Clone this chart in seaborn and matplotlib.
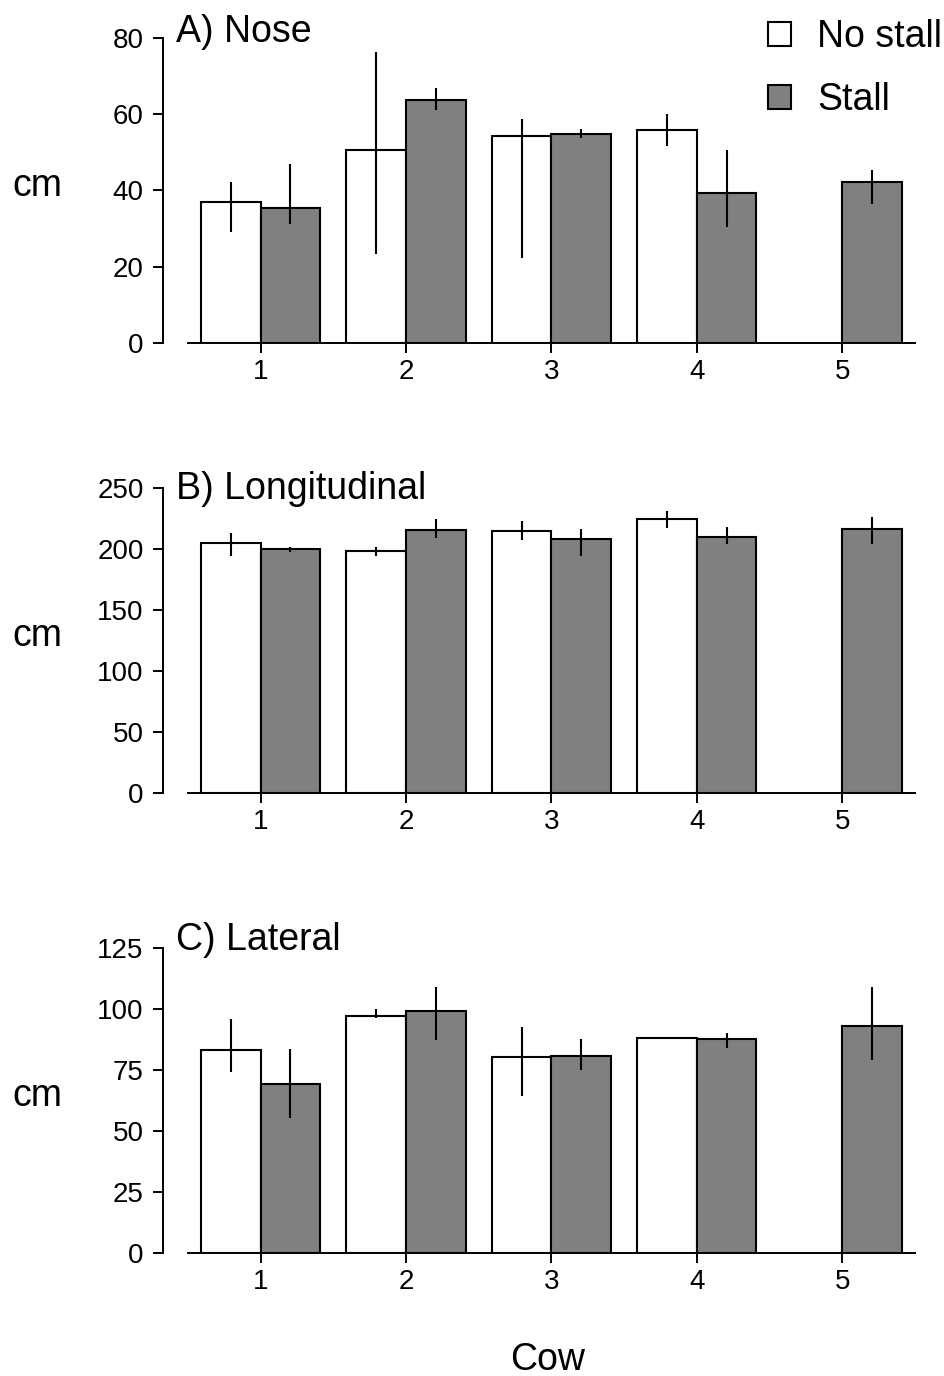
import matplotlib
matplotlib.use("Agg")
import matplotlib.pyplot as plt
import numpy as np
import pandas as pd
import seaborn as sns

# === Data ===
cows = ["1", "2", "3", "4", "5"]
conditions = ["No stall", "Stall"]

nose_nostall = [36.9, 50.6, 54.2, 55.9, np.nan]
nose_nostall_lo = [29.1, 23.3, 22.3, 51.5, np.nan]
nose_nostall_hi = [42.3, 76.3, 58.6, 60.1, np.nan]
nose_stall = [35.4, 63.6, 54.8, 39.2, 42.2]
nose_stall_lo = [31.3, 61.0, 53.6, 30.5, 36.4]
nose_stall_hi = [47.0, 66.8, 56.0, 50.7, 45.4]

long_nostall = [204.5, 198.2, 214.3, 224.1, np.nan]
long_nostall_lo = [194.1, 194.1, 207.2, 217.0, np.nan]
long_nostall_hi = [212.9, 201.7, 222.7, 230.9, np.nan]
long_stall = [199.5, 215.6, 207.7, 209.4, 215.9]
long_stall_lo = [197.3, 208.5, 194.1, 203.9, 203.9]
long_stall_hi = [201.4, 224.3, 216.2, 217.8, 226.0]

lat_nostall = [83.4, 97.4, 80.3, 88.4, np.nan]
lat_nostall_lo = [74.3, 96.4, 64.6, 88.2, np.nan]
lat_nostall_hi = [96.0, 100.0, 92.6, 88.8, np.nan]
lat_stall = [69.5, 99.2, 81.0, 87.7, 93.3]
lat_stall_lo = [55.4, 87.5, 75.1, 84.3, 79.2]
lat_stall_hi = [83.7, 109.0, 87.8, 90.3, 109.1]

panels = [
    ("A) Nose", nose_nostall, nose_nostall_lo, nose_nostall_hi,
     nose_stall, nose_stall_lo, nose_stall_hi, 80, [0, 20, 40, 60, 80]),
    ("B) Longitudinal", long_nostall, long_nostall_lo, long_nostall_hi,
     long_stall, long_stall_lo, long_stall_hi, 250, [0, 50, 100, 150, 200, 250]),
    ("C) Lateral", lat_nostall, lat_nostall_lo, lat_nostall_hi,
     lat_stall, lat_stall_lo, lat_stall_hi, 125, [0, 25, 50, 75, 100, 125]),
]

# === Style ===
sns.set_style("ticks")
plt.rcParams["font.family"] = ["Liberation Sans", "DejaVu Sans"]
for key in ["text.color", "axes.labelcolor", "xtick.color", "ytick.color", "axes.edgecolor"]:
    plt.rcParams[key] = "black"

fig = plt.figure(figsize=(9.45, 13.76), dpi=100)
axes_rect = [
    [0.1989, 0.7507, 0.7693, 0.2219],
    [0.1989, 0.4235, 0.7693, 0.2221],
    [0.1989, 0.0892, 0.7693, 0.2217],
]
title_y = [0.987, 0.964, 0.994]

for i, (title, ns, ns_lo, ns_hi, st, st_lo, st_hi, ytop, yticks) in enumerate(panels):
    ax = fig.add_axes(axes_rect[i])
    df = pd.DataFrame({
        "Cow": cows * 2,
        "Condition": [conditions[0]] * 5 + [conditions[1]] * 5,
        "cm": ns + st,
    })
    sns.barplot(
        data=df, x="Cow", y="cm", hue="Condition", hue_order=conditions,
        order=cows, palette=["white", "#808080"], edgecolor="black",
        linewidth=1.5, errorbar=None, width=0.82, saturation=1,
        legend=(i == 0), ax=ax,
    )

    # error bars from the bar positions drawn by seaborn
    lows = [ns_lo, st_lo]
    highs = [ns_hi, st_hi]
    for c, container in enumerate(ax.containers):
        for bar in container:
            xc = bar.get_x() + bar.get_width() / 2
            idx = int(round(xc))
            lo, hi = lows[c][idx], highs[c][idx]
            if np.isnan(lo):
                continue
            ax.vlines(xc, lo, hi, color="black", linewidth=1.5, zorder=5)

    ax.set_xlim(-0.5, 4.5)
    ax.set_ylim(0, ytop)
    ax.set_yticks(yticks)
    sns.despine(ax=ax)
    ax.spines["left"].set_position(("outward", 18))
    for s in ["left", "bottom"]:
        ax.spines[s].set_linewidth(1.4)
        ax.spines[s].set_color("black")
    ax.tick_params(axis="y", labelsize=20, length=7, width=1.4, pad=7, colors="black")
    ax.tick_params(axis="x", labelsize=20, length=7, width=1.4, pad=4.5, colors="black")

    ax.set_ylabel("cm", fontsize=27, rotation=0, ha="center", va="center")
    ax.yaxis.set_label_coords(-0.207, 0.515)
    if i == 2:
        ax.set_xlabel("Cow", fontsize=27)
        ax.xaxis.label.set_va("baseline")
        ax.xaxis.set_label_coords(0.495, -0.383)
    else:
        ax.set_xlabel("")

    ax.text(-0.016, title_y[i], title, transform=ax.transAxes, fontsize=27,
            ha="left", va="baseline")

    if i == 0:
        leg = ax.get_legend()
        handles = leg.legend_handles
        labels = [t.get_text() for t in leg.get_texts()]
        leg.remove()
        ax.legend(handles, labels, loc="upper right",
                  bbox_to_anchor=(0.997, 0.986), bbox_transform=fig.transFigure,
                  frameon=False, fontsize=27, handlelength=0.6,
                  handleheight=0.6, handletextpad=0.7, labelspacing=0.71,
                  borderpad=0, borderaxespad=0)

fig.savefig("out.png", dpi=100)
